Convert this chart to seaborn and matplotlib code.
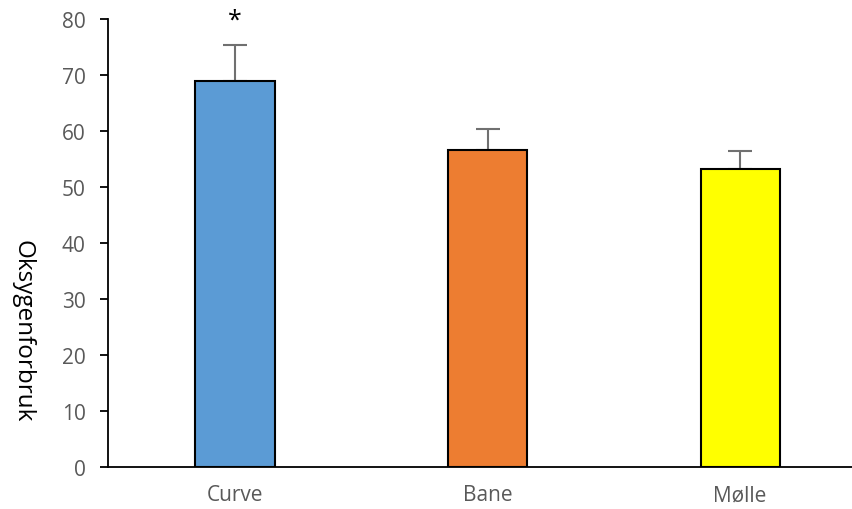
import matplotlib.pyplot as plt
import pandas as pd
import seaborn as sns

# values
categories = ['Curve', 'Bane', 'Mølle']
means = [69.0, 56.6, 53.3]
sd_upper = [6.3, 3.7, 3.1]
bar_colors = ['#5B9BD5', '#ED7D31', '#FFFF00']
y_ticks = [0, 10, 20, 30, 40, 50, 60, 70, 80]

df = pd.DataFrame({'kategori': categories, 'verdi': means})

sns.set_style('white')
plt.rcParams['font.family'] = ['Open Sans', 'DejaVu Sans']

fig = plt.figure(figsize=(8.53, 5.10), dpi=100)
ax = fig.add_axes([0.1266, 0.0824, 0.8734, 0.8784])

sns.barplot(data=df, x='kategori', y='verdi', hue='kategori', palette=bar_colors,
            saturation=1, legend=False, width=0.313, edgecolor='black',
            linewidth=1.5, errorbar=None, ax=ax, zorder=2)

ax.errorbar(range(len(categories)), means, yerr=[[0] * len(means), sd_upper],
            fmt='none', ecolor='#707070', elinewidth=1.5, capsize=8.5,
            capthick=1.5, zorder=1)

ax.text(0, 77.6, '*', ha='center', va='bottom', fontsize=18, color='black')

ax.set_xlim(-0.503, 2.447)
ax.set_ylim(0, 80)
ax.set_yticks(y_ticks)
ax.set_xlabel('')
ax.set_ylabel('Oksygenforbruk', rotation=-90, fontsize=17.5, color='black',
              va='center', ha='center')
ax.yaxis.set_label_coords(-0.115, 0.306)

sns.despine(ax=ax, top=True, right=True)
ax.spines['left'].set_color('black')
ax.spines['bottom'].set_color('black')
ax.spines['left'].set_linewidth(1.3)
ax.spines['bottom'].set_linewidth(1.3)

ax.tick_params(axis='y', direction='out', left=True, length=6, width=1.3,
               color='black', labelsize=15, labelcolor='#595959', pad=10)
ax.tick_params(axis='x', bottom=False, labelsize=15, labelcolor='#595959', pad=9)

fig.savefig('out.png', dpi=100)
